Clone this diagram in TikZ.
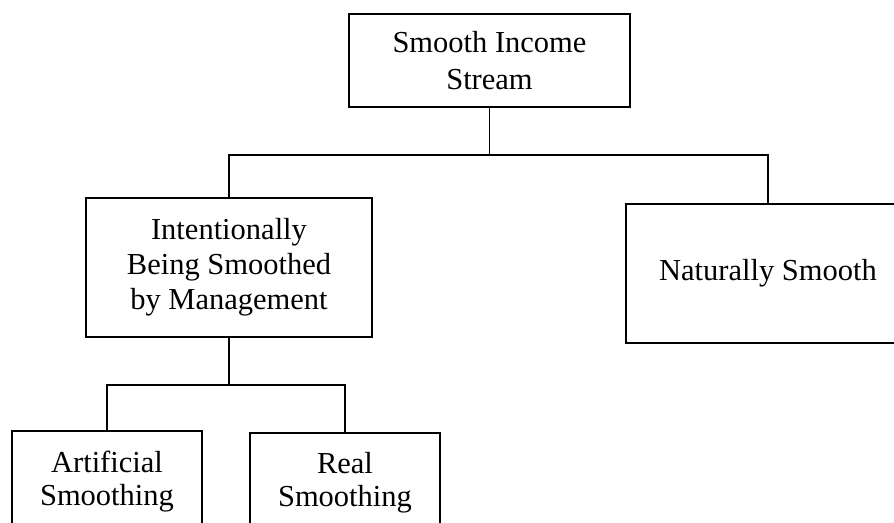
\documentclass[tikz,border=0pt]{standalone}
\usepackage{fontspec}
\setmainfont{Liberation Serif}
\begin{document}
\begin{tikzpicture}[x=1pt,y=-1pt,
  box/.style={draw=black, line width=1.5pt, align=center, inner sep=0pt,
    font=\fontsize{30.5}{35}\selectfont},
  link/.style={draw=black, line width=1.5pt}]
\useasboundingbox (0,0) rectangle (894,522);
\clip (0,0) rectangle (894,522);
\node[box, minimum width=281pt, minimum height=93pt, font=\fontsize{30.5}{37}\selectfont] (top) at (489.5,60.5) {Smooth Income\\Stream};
\node[box, minimum width=286pt, minimum height=139pt] (mid) at (229,267.5) {Intentionally\\Being Smoothed\\by Management};
\node[box, minimum width=284pt, minimum height=139pt] (right) at (768,273.5) {Naturally Smooth};
\node[box, minimum width=190pt, minimum height=101pt, font=\fontsize{30.5}{33}\selectfont] (bl) at (107,481.5) {Artificial\\Smoothing};
\node[box, minimum width=190pt, minimum height=100pt, font=\fontsize{30.5}{33}\selectfont] (br) at (345,483) {Real\\Smoothing};
\coordinate (j1) at (489.5,155);
\coordinate (j2) at (229,385);
\draw[link] (top.south) -- (j1) -| (mid.north);
\draw[link] (j1) -| (right.north);
\draw[link] (mid.south) -- (j2) -| (bl.north);
\draw[link] (j2) -| (br.north);
\end{tikzpicture}
\end{document}
